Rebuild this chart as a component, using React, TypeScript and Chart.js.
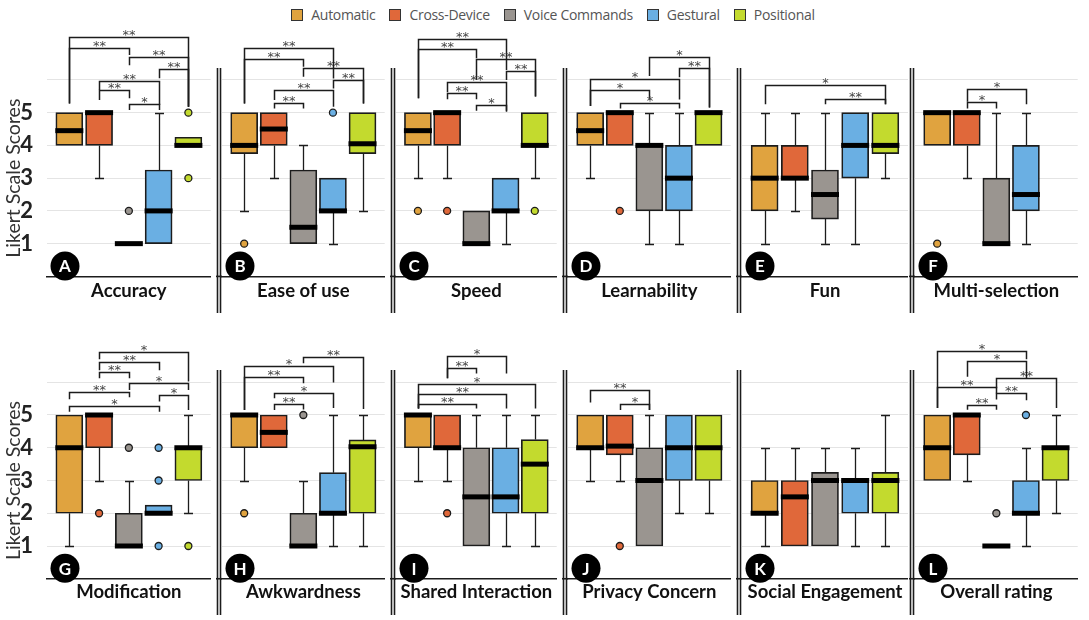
import React, { useEffect, useRef } from 'react';
import { Chart, registerables } from 'chart.js';

Chart.register(...registerables);
Chart.defaults.font.family = 'Lato';

// ---------------- data ----------------
const SERIES = ['Automatic', 'Cross-Device', 'Voice Commands', 'Gestural', 'Positional'];
const SERIES_COLORS = ['#E0A33F', '#E0683A', '#9A9590', '#6AAFE3', '#C3DA2E'];
const PANEL_TITLES = [
  'Accuracy', 'Ease of use', 'Speed', 'Learnability', 'Fun', 'Multi-selection',
  'Modification', 'Awkwardness', 'Shared Interaction', 'Privacy Concern', 'Social Engagement', 'Overall rating',
];
const PANEL_LETTERS = ['A', 'B', 'C', 'D', 'E', 'F', 'G', 'H', 'I', 'J', 'K', 'L'];
const Y_TICK_LABELS = [1, 2, 3, 4, 5];
const Y_TITLE = 'Likert Scale Scores';

type Box = number[] | null; // [min, q1, median, q3, max]
type Outlier = [number, number]; // [series, value]
type Bracket = [number, number, number, number, number, string]; // [from, to, level, leftLegEnd, rightLegEnd, label]

const accuracyBoxes: Box[] = [[4, 4, 4.45, 5, 5], [3, 4, 5, 5, 5], [1, 1, 1, 1, 1], [1, 1, 2, 3.25, 5], [4, 4, 4, 4.25, 4.25]];
const accuracyOutliers: Outlier[] = [[2, 2], [4, 5], [4, 3]];
const accuracyBrackets: Bracket[] = [
  [0, 4, 7.3, 5.28, 5.18, '**'], [0, 2, 6.98, 5.28, 6.76, '**'], [2, 4, 6.71, 6.45, 5.18, '**'],
  [3, 4, 6.32, 6.05, 5.18, '**'], [1, 3, 5.96, 5.69, 5.23, '**'], [1, 2, 5.69, 5.39, 5.44, '**'], [2, 3, 5.26, 5.08, 5.08, '*'],
];

const easeBoxes: Box[] = [[2, 3.75, 4, 5, 5], [3, 4, 4.5, 5, 5], [1, 1, 1.5, 3.25, 4], [1, 2, 2, 3, 3], [2, 3.75, 4.05, 5, 5]];
const easeOutliers: Outlier[] = [[0, 1], [3, 5]];
const easeBrackets: Bracket[] = [
  [0, 3, 6.98, 5.28, 6.04, '**'], [0, 2, 6.63, 5.28, 6.4, '**'], [2, 4, 6.35, 6.1, 5.28, '**'],
  [3, 4, 5.99, 5.74, 5.28, '**'], [1, 3, 5.69, 5.39, 5.18, '**'], [1, 2, 5.3, 5.13, 5.13, '**'],
];

const speedBoxes: Box[] = [[3, 4, 4.45, 5, 5], [3, 4, 5, 5, 5], [1, 1, 1, 2, 2], [1, 2, 2, 3, 3], [3, 4, 4, 5, 5]];
const speedOutliers: Outlier[] = [[0, 2], [1, 2], [4, 2]];
const speedBrackets: Bracket[] = [
  [0, 3, 7.25, 5.44, 6.3, '**'], [0, 2, 6.93, 5.44, 6.66, '**'], [2, 4, 6.63, 6.0, 5.49, '**'],
  [3, 4, 6.27, 6.0, 5.49, '**'], [1, 3, 5.95, 5.62, 5.03, '**'], [1, 2, 5.59, 5.41, 5.41, '**'], [2, 3, 5.23, 5.06, 5.06, '*'],
];

const learnBoxes: Box[] = [[3, 4, 4.45, 5, 5], [4, 4, 5, 5, 5], [1, 2, 4, 4, 5], [1, 2, 3, 4, 5], [4, 4, 5, 5, 5]];
const learnOutliers: Outlier[] = [[1, 2]];
const learnBrackets: Bracket[] = [
  [2, 4, 6.69, 6.12, 5.16, '*'], [3, 4, 6.35, 6.08, 5.16, '**'], [0, 3, 6.03, 5.2, 5.4, '*'],
  [0, 2, 5.69, 5.2, 5.4, '*'], [1, 3, 5.28, 5.13, 5.13, '*'],
];

const funBoxes: Box[] = [[1, 2, 3, 4, 5], [2, 3, 3, 4, 5], [1, 1.75, 2.5, 3.25, 5], [1, 3, 4, 5, 5], [3, 3.75, 4, 5, 5]];
const funOutliers: Outlier[] = [];
const funBrackets: Bracket[] = [[0, 4, 5.84, 5.26, 5.26, '*'], [2, 4, 5.43, 5.26, 5.26, '**']];

const multiBoxes: Box[] = [[4, 4, 5, 5, 5], [3, 4, 5, 5, 5], [1, 1, 1, 3, 5], [1, 2, 2.5, 4, 5], null];
const multiOutliers: Outlier[] = [[0, 1]];
const multiBrackets: Bracket[] = [[1, 3, 5.71, 5.33, 5.26, '*'], [1, 2, 5.33, 5.13, 5.13, '*']];

const modBoxes: Box[] = [[1, 2, 4, 5, 5], [3, 4, 5, 5, 5], [1, 1, 1, 2, 3], [2, 2, 2, 2.25, 2.25], [2, 3, 4, 4, 5]];
const modOutliers: Outlier[] = [[1, 2], [2, 4], [3, 4], [3, 3], [3, 1], [4, 1]];
const modBrackets: Bracket[] = [
  [1, 4, 6.93, 6.7, 6.02, '*'], [1, 3, 6.63, 6.37, 6.37, '**'], [1, 2, 6.3, 6.12, 6.12, '**'],
  [2, 4, 5.99, 5.76, 5.76, '*'], [0, 2, 5.71, 5.48, 5.54, '**'], [3, 4, 5.61, 5.41, 5.15, '*'], [0, 3, 5.28, 5.1, 5.1, '*'],
];

const awkBoxes: Box[] = [[3, 4, 5, 5, 5], [4, 4, 4.47, 5, 5], [1, 1, 1, 2, 3], [1, 2, 2, 3.24, 5], [1, 2, 4.03, 4.24, 5]];
const awkOutliers: Outlier[] = [[0, 2], [2, 5]];
const awkBrackets: Bracket[] = [
  [2, 4, 6.78, 6.58, 5.18, '**'], [0, 3, 6.5, 5.15, 5.99, '*'], [0, 2, 6.17, 5.15, 5.97, '**'],
  [1, 3, 5.66, 5.51, 5.21, '*'], [1, 2, 5.33, 5.15, 5.17, '**'],
];

const sharedBoxes: Box[] = [[3, 4, 5, 5, 5], [3, 4, 4, 5, 5], [1, 1, 2.5, 4, 5], [1, 2, 2.5, 4, 5], [1, 2, 3.5, 4.25, 5]];
const sharedOutliers: Outlier[] = [[1, 2]];
const sharedBrackets: Bracket[] = [
  [1, 3, 6.8, 6.12, 6.27, '*'], [1, 2, 6.44, 6.12, 6.27, '**'], [0, 4, 5.95, 5.2, 5.2, '*'],
  [0, 3, 5.63, 5.2, 5.2, '**'], [0, 2, 5.34, 5.2, 5.2, '**'],
];

const privacyBoxes: Box[] = [[3, 3.94, 4, 5, 5], [3, 3.78, 4.05, 5, 5], [1, 1, 3, 4, 5], [2, 3, 4, 5, 5], [2, 3, 4, 5, 5]];
const privacyOutliers: Outlier[] = [[1, 1]];
const privacyBrackets: Bracket[] = [[0, 2, 5.76, 5.38, 5.15, '**'], [1, 2, 5.33, 5.15, 5.15, '*']];

const socialBoxes: Box[] = [[1, 2, 2, 3, 4], [1, 1, 2.5, 3, 4], [1, 1, 3, 3.25, 4], [1, 2, 3, 3, 4], [1, 2, 3, 3.25, 5]];
const socialOutliers: Outlier[] = [];
const socialBrackets: Bracket[] = [];

const overallBoxes: Box[] = [[3, 3, 4, 5, 5], [3, 3.78, 5, 5, 5], [1, 1, 1, 1, 1], [1, 2, 2, 3, 4], [2, 3, 4, 4, 5]];
const overallOutliers: Outlier[] = [[2, 2], [3, 5]];
const overallBrackets: Bracket[] = [
  [0, 3, 6.95, 5.21, 6.7, '*'], [1, 3, 6.65, 6.17, 6.12, '*'], [2, 4, 6.12, 5.82, 5.21, '**'],
  [0, 2, 5.86, 5.21, 5.66, '**'], [2, 3, 5.66, 5.47, 5.45, '**'], [1, 2, 5.32, 5.16, 5.16, '**'],
];

const PANEL_BOXES = [accuracyBoxes, easeBoxes, speedBoxes, learnBoxes, funBoxes, multiBoxes, modBoxes, awkBoxes, sharedBoxes, privacyBoxes, socialBoxes, overallBoxes];
const PANEL_OUTLIERS = [accuracyOutliers, easeOutliers, speedOutliers, learnOutliers, funOutliers, multiOutliers, modOutliers, awkOutliers, sharedOutliers, privacyOutliers, socialOutliers, overallOutliers];
const PANEL_BRACKETS = [accuracyBrackets, easeBrackets, speedBrackets, learnBrackets, funBrackets, multiBrackets, modBrackets, awkBrackets, sharedBrackets, privacyBrackets, socialBrackets, overallBrackets];

// ---------------- layout ----------------
const COL_LEFT = [47, 222, 396, 568, 742, 915];
const COL_RIGHT = [216, 390, 562, 736, 908, 1083];
const TITLE_SIZE = 18.5;
const TITLE_LH = TITLE_SIZE * 1.2;
const ROWS = [
  { top: 0, h: 316, padTop: 27.5, xAxisH: 39.6, titleCenter: 290.7, lineTop: 68, lineBottom: 313 },
  { top: 316, h: 304, padTop: 13.85, xAxisH: 41.25, titleCenter: 276, lineTop: 54, lineBottom: 299 },
];
const Y_MAX = 7.6;
const BOX_W = 27;
const INK = '#1c1c1c';

function extrasPlugin(panel: number, col: number, row: number) {
  const boxes = PANEL_BOXES[panel];
  const brackets = PANEL_BRACKETS[panel];
  const rc = ROWS[row];
  return {
    id: 'boxExtras' + panel,
    beforeDatasetsDraw(chart: any) {
      const { ctx } = chart;
      const xs = chart.scales.x;
      const ys = chart.scales.y;
      ctx.save();
      ctx.strokeStyle = INK;
      ctx.lineWidth = 1.3;
      boxes.forEach((b, i) => {
        if (!b) return;
        const [mn, q1, , q3, mx] = b;
        const px = Math.round(xs.getPixelForValue(i)) + 0.5;
        const draw = (from: number, to: number) => {
          const y1 = ys.getPixelForValue(from);
          const y2 = Math.round(ys.getPixelForValue(to)) + 0.5;
          ctx.beginPath();
          ctx.moveTo(px, y1);
          ctx.lineTo(px, y2);
          ctx.moveTo(px - 4.5, y2);
          ctx.lineTo(px + 4.5, y2);
          ctx.stroke();
        };
        if (mx > q3) draw(q3, mx);
        if (mn < q1) draw(q1, mn);
      });
      ctx.restore();
    },
    afterDatasetsDraw(chart: any) {
      const { ctx } = chart;
      const xs = chart.scales.x;
      const ys = chart.scales.y;
      ctx.save();
      ctx.fillStyle = '#000';
      boxes.forEach((b, i) => {
        if (!b) return;
        const px = xs.getPixelForValue(i);
        const py = ys.getPixelForValue(b[2]);
        ctx.fillRect(px - BOX_W / 2 - 0.5, py - 2.5, BOX_W + 1, 5);
      });
      ctx.restore();
    },
    afterDraw(chart: any) {
      const { ctx, chartArea } = chart;
      const xs = chart.scales.x;
      const ys = chart.scales.y;
      ctx.save();
      // significance brackets
      ctx.strokeStyle = INK;
      ctx.lineWidth = 1.5;
      ctx.fillStyle = '#444';
      ctx.font = '13px "DejaVu Sans"';
      ctx.textAlign = 'center';
      ctx.textBaseline = 'alphabetic';
      brackets.forEach(([a, b, lvl, legA, legB, label]) => {
        const xa = Math.round(xs.getPixelForValue(a)) + 0.5;
        const xb = Math.round(xs.getPixelForValue(b)) + 0.5;
        const yl = Math.round(ys.getPixelForValue(lvl)) + 0.5;
        ctx.beginPath();
        ctx.moveTo(xa, ys.getPixelForValue(legA));
        ctx.lineTo(xa, yl);
        ctx.lineTo(xb, yl);
        ctx.lineTo(xb, ys.getPixelForValue(legB));
        ctx.stroke();
        ctx.fillText(label, (xa + xb) / 2, yl + 1.5);
      });
      // double separator line + bridge of the base line
      if (col > 0) {
        ctx.strokeStyle = INK;
        ctx.lineWidth = 1.6;
        ctx.beginPath();
        ctx.moveTo(chartArea.left - 6, chartArea.bottom);
        ctx.lineTo(chartArea.left, chartArea.bottom);
        ctx.stroke();
        [4.5, 1.5].forEach((d) => {
          ctx.beginPath();
          ctx.moveTo(chartArea.left - d, rc.lineTop);
          ctx.lineTo(chartArea.left - d, rc.lineBottom);
          ctx.stroke();
        });
      }
      // panel letter badge
      const cx = chartArea.left + 18;
      const cy = ys.getPixelForValue(0.32);
      ctx.beginPath();
      ctx.arc(cx, cy, 14.5, 0, Math.PI * 2);
      ctx.fillStyle = '#000';
      ctx.fill();
      ctx.fillStyle = '#fff';
      ctx.font = 'bold 17px Lato';
      ctx.textAlign = 'center';
      ctx.textBaseline = 'middle';
      ctx.fillText(PANEL_LETTERS[panel], cx, cy + 1);
      // y axis title
      if (col === 0) {
        ctx.translate(14, ys.getPixelForValue(3));
        ctx.rotate(-Math.PI / 2);
        ctx.fillStyle = '#333';
        ctx.font = '19.5px Lato';
        ctx.textAlign = 'center';
        ctx.textBaseline = 'middle';
        ctx.fillText(Y_TITLE, 0, 0);
      }
      ctx.restore();
    },
  };
}

function buildChart(canvas: HTMLCanvasElement, panel: number) {
  const row = Math.floor(panel / 6);
  const col = panel % 6;
  const rc = ROWS[row];
  const yw = col === 0 ? COL_LEFT[0] : 6;
  const boxes = PANEL_BOXES[panel];
  const barData = boxes
    .map((b, i) => (b ? { x: i, y: [b[1], b[3]] } : null))
    .filter((d) => d !== null);
  const outlierData = PANEL_OUTLIERS[panel].map(([s, v]) => ({ x: s, y: v }));
  return new Chart(canvas, {
    type: 'bar',
    data: {
      datasets: [
        {
          type: 'bar',
          data: barData as any,
          backgroundColor: (c: any) => SERIES_COLORS[c.raw ? c.raw.x : 0],
          borderColor: INK,
          borderWidth: 1.7,
          borderSkipped: false,
          barThickness: BOX_W,
        } as any,
        {
          type: 'scatter',
          data: outlierData,
          pointBackgroundColor: (c: any) => SERIES_COLORS[c.raw ? c.raw.x : 0],
          pointBorderColor: INK,
          pointBorderWidth: 1.3,
          pointRadius: 3.5,
        } as any,
      ],
    },
    options: {
      animation: false,
      responsive: false,
      events: [],
      layout: { padding: { top: rc.padTop, left: 0, right: 0, bottom: 0 } },
      plugins: { legend: { display: false }, tooltip: { enabled: false } },
      scales: {
        x: {
          type: 'linear',
          min: -0.75,
          max: 4.75,
          offset: false,
          grid: { display: false, drawTicks: false },
          ticks: { display: false },
          border: { display: true, color: INK, width: 1.6 },
          title: {
            display: true,
            text: PANEL_TITLES[panel],
            color: '#111',
            font: { family: 'Lato', weight: 'bold', size: TITLE_SIZE, lineHeight: 1.2 },
            padding: { top: 0, bottom: rc.h - rc.titleCenter - TITLE_LH / 2 },
          },
          afterFit: (s: any) => {
            s.height = rc.xAxisH;
            s.paddingLeft = 0;
            s.paddingRight = 0;
          },
        },
        y: {
          type: 'linear',
          min: 0,
          max: Y_MAX,
          grid: {
            drawTicks: false,
            lineWidth: 1,
            color: (c: any) => (c.tick && c.tick.value >= 1 && c.tick.value <= 6 ? '#e4e4e4' : 'rgba(0,0,0,0)'),
          },
          border: { display: false },
          ticks: {
            display: col === 0,
            stepSize: 1,
            padding: 14,
            color: '#222',
            font: { family: 'Lato', weight: 'bold', size: 22 },
            callback: (v: any) => (Y_TICK_LABELS.includes(Number(v)) ? String(v) : ''),
          },
          afterFit: (s: any) => {
            s.width = yw;
            s.paddingTop = 0;
            s.paddingBottom = 0;
          },
        },
      },
    } as any,
    plugins: [extrasPlugin(panel, col, row) as any],
  });
}

function Panel({ index }: { index: number }) {
  const ref = useRef<HTMLCanvasElement | null>(null);
  const row = Math.floor(index / 6);
  const col = index % 6;
  const rc = ROWS[row];
  const left = col === 0 ? 0 : COL_LEFT[col] - 6;
  const width = COL_RIGHT[col] - left;
  useEffect(() => {
    if (!ref.current) return;
    const chart = buildChart(ref.current, index);
    return () => chart.destroy();
  }, [index]);
  return (
    <canvas
      ref={ref}
      width={width}
      height={rc.h}
      style={{ position: 'absolute', left, top: rc.top, width, height: rc.h }}
    />
  );
}

export default function App() {
  return (
    <div style={{ position: 'absolute', left: 0, top: 0, width: 1089, height: 620, background: '#fff', overflow: 'hidden' }}>
      <div
        style={{
          position: 'absolute',
          left: 0,
          top: 5,
          width: 1089,
          paddingLeft: 17,
          boxSizing: 'border-box',
          display: 'flex',
          justifyContent: 'center',
          gap: 14,
          font: '14px "Open Sans"',
          letterSpacing: '-0.3px',
          color: '#555',
          lineHeight: '20px',
        }}
      >
        {SERIES.map((s, i) => (
          <div key={s} style={{ display: 'flex', alignItems: 'center', gap: 8 }}>
            <span
              style={{
                display: 'inline-block',
                width: 12,
                height: 12,
                boxSizing: 'border-box',
                background: SERIES_COLORS[i],
                border: '1.5px solid #333',
              }}
            />
            <span>{s}</span>
          </div>
        ))}
      </div>
      {PANEL_TITLES.map((t, i) => (
        <Panel key={t} index={i} />
      ))}
    </div>
  );
}
